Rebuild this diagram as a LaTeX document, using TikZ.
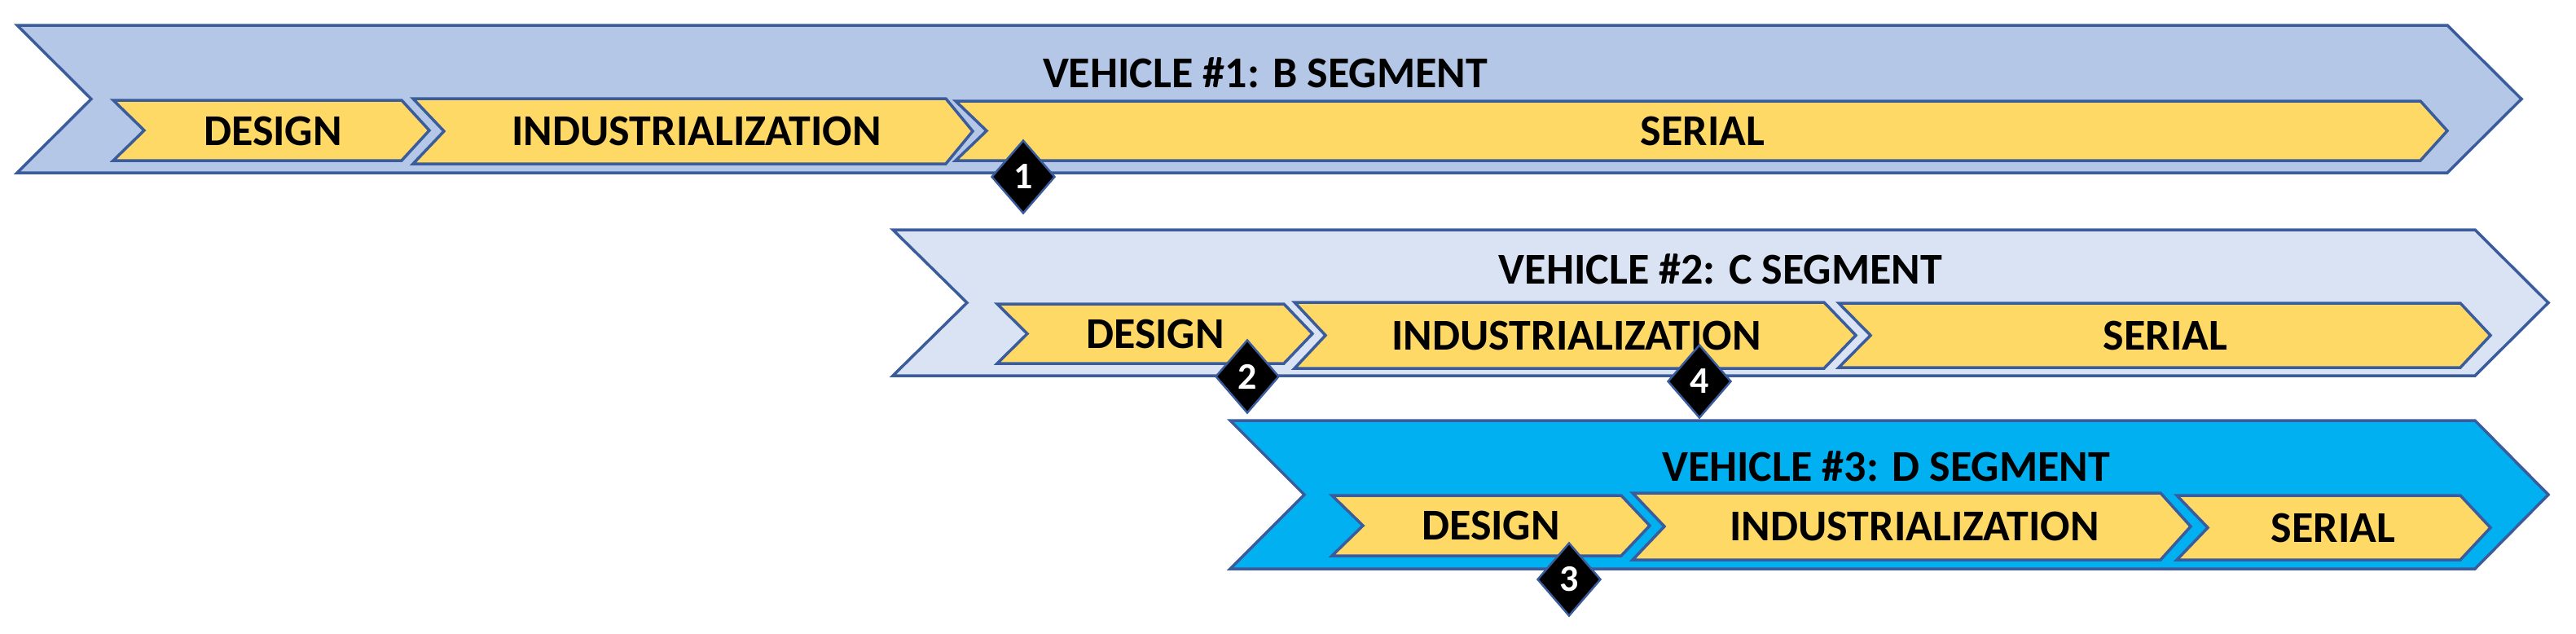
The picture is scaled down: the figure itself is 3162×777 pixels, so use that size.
\documentclass[tikz,border=0pt]{standalone}
\usepackage{fontspec}
\setmainfont{Carlito}
\usetikzlibrary{shapes.geometric}
\definecolor{bdr}{HTML}{3A5C9C}
\definecolor{bandA}{HTML}{B4C7E7}
\definecolor{bandB}{HTML}{DAE3F3}
\definecolor{bandC}{HTML}{00B0F0}
\definecolor{phase}{HTML}{FFD966}
\newcommand\mychev[7]{% style, x1, notch, x2, tip, top, bottom
  \path[#1] (#2,#6) -- (#4,#6) -- (#5,{(#6+#7)/2}) -- (#4,#7) -- (#2,#7) -- (#3,{(#6+#7)/2}) -- cycle;}
\begin{document}
\begin{tikzpicture}[x=1pt,y=-1pt,
  band/.style={draw=bdr,line width=3.5pt,line join=miter},
  ph/.style={draw=bdr,line width=3.5pt,fill=phase,line join=miter},
  txt/.style={font=\bfseries\fontsize{54}{60}\selectfont,inner sep=0pt},
  milestone/.style={diamond,fill=black,draw=bdr,line width=2.5pt,minimum width=78pt,minimum height=90pt,inner sep=0pt,text=white,font=\bfseries\fontsize{46}{50}\selectfont}]
\useasboundingbox (0,0) rectangle (3162,777);
% bands
\mychev{band,fill=bandA}{21}{112}{3004}{3095}{31}{212}
\mychev{band,fill=bandB}{1096}{1187}{3038}{3128}{282}{461}
\mychev{band,fill=bandC}{1510}{1601}{3038}{3128}{516}{698}
% vehicle 1 phases
\mychev{ph}{139}{177}{493}{527}{123}{197}
\mychev{ph}{507}{545}{1161}{1194}{121}{201}
\mychev{ph}{1173}{1211}{2971}{3004}{124}{197}
% vehicle 2 phases
\mychev{ph}{1224}{1261}{1576}{1611}{373}{446}
\mychev{ph}{1589}{1627}{2239}{2278}{371}{452}
\mychev{ph}{2257}{2296}{3020}{3057}{372}{451}
% vehicle 3 phases
\mychev{ph}{1635}{1673}{1990}{2025}{608}{682}
\mychev{ph}{2004}{2043}{2652}{2689}{605}{687}
\mychev{ph}{2672}{2710}{3020}{3057}{608}{687}
% titles
\node[txt] (t1) at (1553,89) {VEHICLE \#1: B SEGMENT};
\node[txt] (t2) at (2112,330) {VEHICLE \#2: C SEGMENT};
\node[txt] (t3) at (2315,572) {VEHICLE \#3: D SEGMENT};
% phase labels
\node[txt] (d1) at (335,161) {DESIGN};
\node[txt] (i1) at (855,161) {INDUSTRIALIZATION};
\node[txt] (s1) at (2090,161) {SERIAL};
\node[txt] (d2) at (1418,410) {DESIGN};
\node[txt] (i2) at (1935,412) {INDUSTRIALIZATION};
\node[txt] (s2) at (2658,412) {SERIAL};
\node[txt] (d3) at (1830,645) {DESIGN};
\node[txt] (i3) at (2350,646) {INDUSTRIALIZATION};
\node[txt] (s3) at (2864,648) {SERIAL};
% milestones
\node[milestone] (m1) at (1256,217) {1};
\node[milestone] (m2) at (1531,462) {2};
\node[milestone] (m3) at (1926,711) {3};
\node[milestone] (m4) at (2086,468) {4};
\end{tikzpicture}
\end{document}
